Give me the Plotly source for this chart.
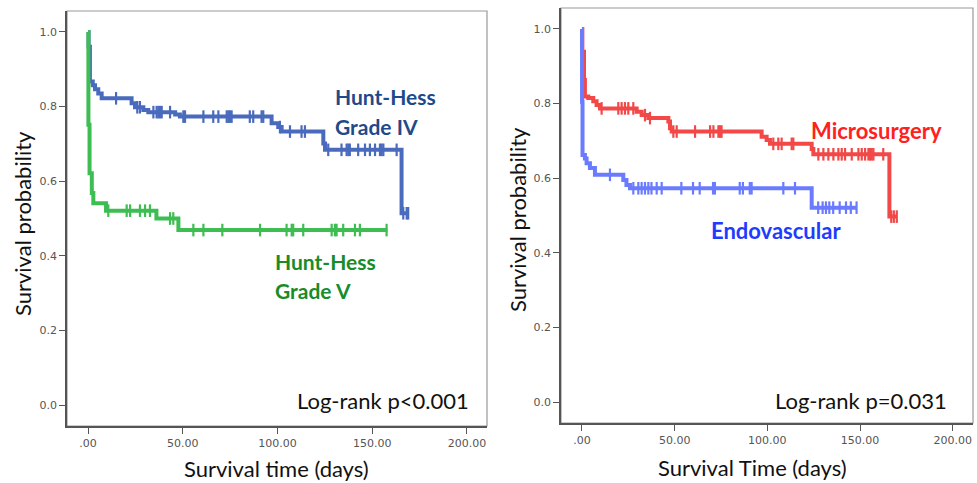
import numpy as np
import plotly.graph_objects as go

# ---------------- data ----------------
# Left panel: Hunt-Hess grade IV
hh4_times = [0, 0.3, 1.0, 2.5, 3.7, 5.4, 7.2, 23.0, 24.8, 29.2, 31.8, 46.0, 48.5, 96.9, 100.4, 102.2, 124.2, 125.1, 165.5]
hh4_surv = [1.0, 0.96, 0.867, 0.857, 0.846, 0.835, 0.822, 0.809, 0.798, 0.791, 0.785, 0.779, 0.773, 0.755, 0.745, 0.733, 0.701, 0.684, 0.514]
hh4_end = 169.0
hh4_censor = [14.8, 26.0, 27.4, 34.5, 36.2, 37.1, 38.0, 38.9, 43.3, 50.3, 51.2, 60.9, 66.1, 68.8, 73.2, 74.1,
              74.9, 75.8, 85.4, 87.2, 91.6, 92.5, 101.3, 106.6, 112.7, 114.5, 126.8, 133.8, 136.5, 137.4, 138.2,
              142.6, 146.2, 148.8, 151.5, 154.1, 155.0, 155.9, 162.9, 166.4, 168.2, 169.0]

# Left panel: Hunt-Hess grade V
hh5_times = [0, 0.2, 0.8, 2.0, 2.8, 9.5, 36.1, 47.7]
hh5_surv = [1.0, 0.751, 0.621, 0.568, 0.541, 0.521, 0.500, 0.469]
hh5_end = 158.0
hh5_censor = [10.7, 20.4, 22.2, 27.4, 30.1, 32.7, 43.3, 45.0, 55.6, 60.9, 70.9, 90.8, 104.8, 107.5, 108.3,
              113.6, 128.6, 130.3, 131.2, 134.7, 140.9, 143.5, 157.6]

# Right panel: Microsurgery
mic_times = [0, 0.2, 1.1, 1.6, 3.4, 6.1, 7.9, 9.7, 29.5, 32.2, 35.8, 46.6, 47.5, 48.4, 96.9, 99.6, 101.4, 123.9, 124.8, 165.8]
mic_surv = [1.0, 0.939, 0.863, 0.819, 0.815, 0.806, 0.796, 0.787, 0.778, 0.769, 0.761, 0.752, 0.734, 0.725, 0.711, 0.702, 0.692, 0.678, 0.664, 0.497]
mic_end = 169.8
mic_censor = [10.6, 19.6, 21.4, 23.2, 25.0, 27.7, 34.0, 36.7, 49.3, 51.1, 61.0, 69.1, 70.9, 73.6, 74.4, 75.3,
              103.2, 105.9, 107.7, 113.1, 114.0, 127.5, 130.2, 132.9, 135.6, 138.3, 140.1, 141.9, 145.5, 149.1,
              150.9, 152.7, 154.5, 155.4, 156.3, 157.2, 162.5, 166.8, 168.2, 169.8]

# Right panel: Endovascular
endo_times = [0, 0.05, 0.3, 1.6, 2.5, 4.3, 7.0, 22.3, 24.0, 25.9, 123.9]
endo_surv = [1.0, 0.805, 0.662, 0.653, 0.640, 0.627, 0.609, 0.595, 0.582, 0.573, 0.521]
endo_end = 148.1
endo_censor = [15.1, 27.7, 30.4, 32.2, 34.0, 35.8, 37.5, 40.3, 43.0, 53.6, 59.9, 63.5, 70.7, 71.7, 85.1, 86.8,
               90.5, 91.5, 108.6, 114.9, 127.4, 129.8, 131.6, 133.4, 135.5, 139.0, 142.4, 145.0, 148.1]

x_tickvals = [0, 50, 100, 150, 200]
x_ticktext = [".00", "50.00", "100.00", "150.00", "200.00"]
y_tickvals = [0.0, 0.2, 0.4, 0.6, 0.8, 1.0]
y_ticktext = ["0.0", "0.2", "0.4", "0.6", "0.8", "1.0"]

# ---------------- helpers ----------------
W, H = 977, 483


def px(x):
    return x / W


def py(y):
    return 1 - y / H


def step_value(times, surv, t):
    idx = np.searchsorted(np.asarray(times), t, side="right") - 1
    return np.asarray(surv)[np.clip(idx, 0, len(surv) - 1)]


def km_traces(times, surv, end, censor, color, xa, ya):
    xs = list(times) + [end]
    ys = list(surv) + [surv[-1]]
    line = go.Scatter(x=xs, y=ys, mode="lines", line=dict(color=color, width=4, shape="hv"),
                      xaxis=xa, yaxis=ya, showlegend=False, hoverinfo="skip")
    cy = [float(step_value(times, surv, t)) for t in censor]
    marks = go.Scatter(x=censor, y=cy, mode="markers",
                       marker=dict(symbol="line-ns", size=9, line=dict(color=color, width=2.2)),
                       xaxis=xa, yaxis=ya, showlegend=False, hoverinfo="skip")
    return [line, marks]


fig = go.Figure()
for tr in km_traces(hh4_times, hh4_surv, hh4_end, hh4_censor, "#4a6bbd", "x", "y"):
    fig.add_trace(tr)
for tr in km_traces(hh5_times, hh5_surv, hh5_end, hh5_censor, "#3dbd52", "x", "y"):
    fig.add_trace(tr)
for tr in km_traces(mic_times, mic_surv, mic_end, mic_censor, "#f24848", "x2", "y2"):
    fig.add_trace(tr)
for tr in km_traces(endo_times, endo_surv, endo_end, endo_censor, "#6a7bff", "x2", "y2"):
    fig.add_trace(tr)

# ---------------- axes ----------------
tickfont = dict(family="DejaVu Sans", size=11, color="#555555")
common_x = dict(tickvals=x_tickvals, ticktext=x_ticktext, ticks="outside", ticklen=6, tickcolor="#555555",
                showline=True, linecolor="#555555", linewidth=1.5, showgrid=False, zeroline=False,
                tickfont=tickfont)
common_y = dict(tickvals=y_tickvals, ticktext=y_ticktext, ticks="outside", ticklen=6, tickcolor="#555555",
                showline=True, linecolor="#555555", linewidth=1.5, showgrid=False, zeroline=False,
                tickfont=tickfont)

L = dict(x0=67, x1=487, y0=11, y1=426)
R = dict(x0=561, x1=973, y0=8, y1=423)

fig.update_layout(
    width=W, height=H, margin=dict(l=0, r=0, t=0, b=0),
    paper_bgcolor="white", plot_bgcolor="white",
    xaxis=dict(domain=[px(L["x0"]), px(L["x1"])], range=[-11.1, 210.6], anchor="y", **common_x),
    yaxis=dict(domain=[py(L["y1"]), py(L["y0"])], range=[-0.056, 1.056], anchor="x", **common_y),
    xaxis2=dict(domain=[px(R["x0"]), px(R["x1"])], range=[-11.3, 210.9], anchor="y2", **common_x),
    yaxis2=dict(domain=[py(R["y1"]), py(R["y0"])], range=[-0.056, 1.056], anchor="x2", **common_y),
)

# plot frames
for b in (L, R):
    fig.add_shape(type="rect", xref="paper", yref="paper",
                  x0=px(b["x0"]), x1=px(b["x1"]), y0=py(b["y1"]), y1=py(b["y0"]),
                  line=dict(color="#999999", width=1.2), fillcolor="rgba(0,0,0,0)", layer="below")

# ---------------- text ----------------
title_font = dict(family="Lato", size=22, color="#111111")


def ann(text, x, y, font, xanchor="center", yanchor="middle", angle=0):
    fig.add_annotation(text=text, x=px(x), y=py(y), xref="paper", yref="paper", showarrow=False,
                       xanchor=xanchor, yanchor=yanchor, font=font, textangle=angle)


ann("Survival probability", 22, 224, title_font, angle=-90)
ann("Survival time (days)", 276, 468, title_font)
ann("Survival probability", 517, 220, title_font, angle=-90)
ann("Survival Time (days)", 752, 467, title_font)

ann("<b>Hunt-Hess</b>", 333, 97, dict(family="Lato", size=21, color="#1f4a8a"), xanchor="left")
ann("<b>Grade IV</b>", 333, 127, dict(family="Lato", size=21, color="#1f4a8a"), xanchor="left")
ann("<b>Hunt-Hess</b>", 273, 261, dict(family="Lato", size=21, color="#188c28"), xanchor="left")
ann("<b>Grade V</b>", 273, 290, dict(family="Lato", size=21, color="#188c28"), xanchor="left")
ann("Log-rank p<0.001", 471, 400, dict(family="Lato", size=22, color="#111111"), xanchor="right")

ann("<b>Microsurgery</b>", 809, 130, dict(family="Lato", size=22, color="#ff2020"), xanchor="left")
ann("<b>Endovascular</b>", 709, 230, dict(family="Lato", size=22, color="#1e3cff"), xanchor="left")
ann("Log-rank p=0.031", 949, 400, dict(family="Lato", size=22, color="#111111"), xanchor="right")

fig.write_html("out.html", config={"displayModeBar": False},
               post_script="document.body.style.margin='0';document.body.style.padding='0';"
                           "document.body.style.overflow='hidden';")
